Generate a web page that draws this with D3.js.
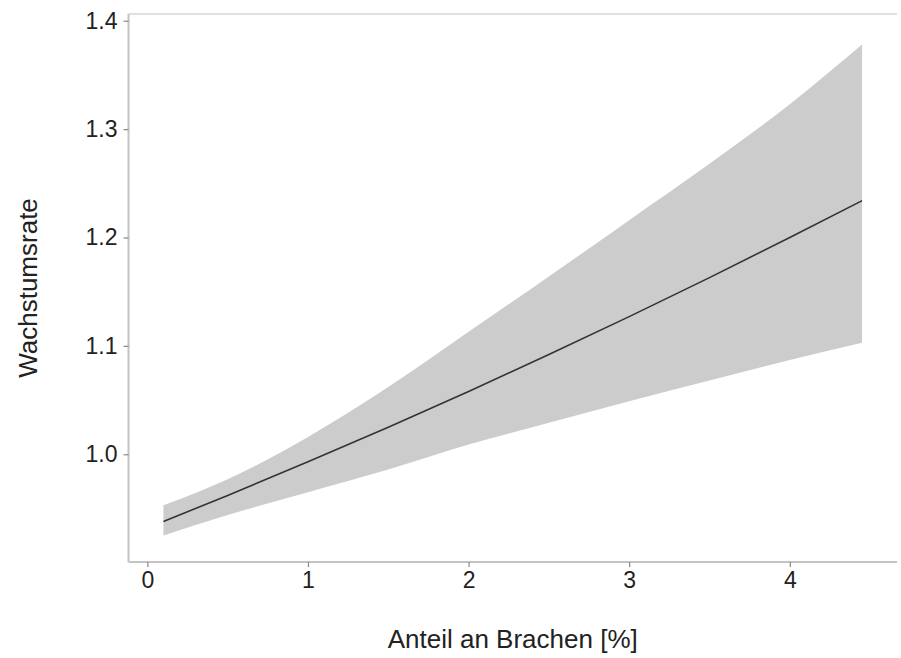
<!DOCTYPE html>
<html>
<head>
<meta charset="utf-8">
<script src="https://cdn.jsdelivr.net/npm/d3@7"></script>
<style>
  html, body { margin: 0; padding: 0; background: #fff; }
  svg { display: block; }
  text { font-family: "Liberation Sans", Arial, sans-serif; }
</style>
</head>
<body>
<svg id="chart" width="901" height="658"></svg>
<script>
// Data
const xValues = [0.1, 0.5, 1.0, 1.5, 2.0, 2.5, 3.0, 3.5, 4.0, 4.45];
const fitValues = [0.938, 0.962, 0.993, 1.025, 1.058, 1.092, 1.127, 1.163, 1.200, 1.234];
const upperValues = [0.953, 0.977, 1.016, 1.062, 1.113, 1.164, 1.216, 1.268, 1.323, 1.378];
const lowerValues = [0.925, 0.944, 0.965, 0.986, 1.009, 1.029, 1.049, 1.068, 1.087, 1.103];
const xTicks = [0, 1, 2, 3, 4];
const yTicks = [1.0, 1.1, 1.2, 1.3, 1.4];
const xTitle = "Anteil an Brachen [%]";
const yTitle = "Wachstumsrate";

const data = xValues.map((x, i) => ({ x, fit: fitValues[i], lo: lowerValues[i], hi: upperValues[i] }));

const svg = d3.select("#chart");
const mLeft = 128.5, mRight = 897, mTop = 14, mBottom = 562;

const x = d3.scaleLinear().domain([-0.1175, 4.6675]).range([mLeft, mRight]);
const y = d3.scaleLinear().domain([0.9006, 1.4062]).range([mBottom, mTop]);

// ribbon
svg.append("path")
  .datum(data)
  .attr("fill", "#cccccc")
  .attr("d", d3.area().x(d => x(d.x)).y0(d => y(d.lo)).y1(d => y(d.hi)).curve(d3.curveMonotoneX));

// fitted line
svg.append("path")
  .datum(data)
  .attr("fill", "none")
  .attr("stroke", "#333333")
  .attr("stroke-width", 1.6)
  .attr("d", d3.line().x(d => x(d.x)).y(d => y(d.fit)).curve(d3.curveMonotoneX));

// top border line
svg.append("line")
  .attr("x1", mLeft).attr("x2", mRight).attr("y1", mTop).attr("y2", mTop)
  .attr("stroke", "#e0e0e0").attr("stroke-width", 2);

// axes
const xAxis = svg.append("g")
  .attr("transform", `translate(0,${mBottom})`)
  .call(d3.axisBottom(x).tickValues(xTicks).tickFormat(d3.format("d")).tickSizeOuter(0).tickSize(5).tickPadding(5));
const yAxis = svg.append("g")
  .attr("transform", `translate(${mLeft},0)`)
  .call(d3.axisLeft(y).tickValues(yTicks).tickFormat(d3.format(".1f")).tickSizeOuter(0).tickSize(5).tickPadding(6));

[xAxis, yAxis].forEach(g => {
  g.select(".domain").attr("stroke", "#c4c4c4").attr("stroke-width", 2);
  g.selectAll(".tick line").attr("stroke", "#888").attr("stroke-width", 1.2);
  g.selectAll(".tick text").attr("fill", "#222").attr("font-size", 23);
});
xAxis.select(".domain").attr("d", `M${mLeft},0H${mRight}`);
yAxis.select(".domain").attr("d", `M0,${mTop}V${mBottom}`);

// titles
svg.append("text")
  .attr("x", (mLeft + mRight) / 2)
  .attr("y", 648)
  .attr("text-anchor", "middle")
  .attr("font-size", 26)
  .attr("fill", "#222")
  .text(xTitle);

svg.append("text")
  .attr("transform", `translate(37,${(mTop + mBottom) / 2}) rotate(-90)`)
  .attr("text-anchor", "middle")
  .attr("font-size", 26)
  .attr("fill", "#222")
  .text(yTitle);
</script>
</body>
</html>
